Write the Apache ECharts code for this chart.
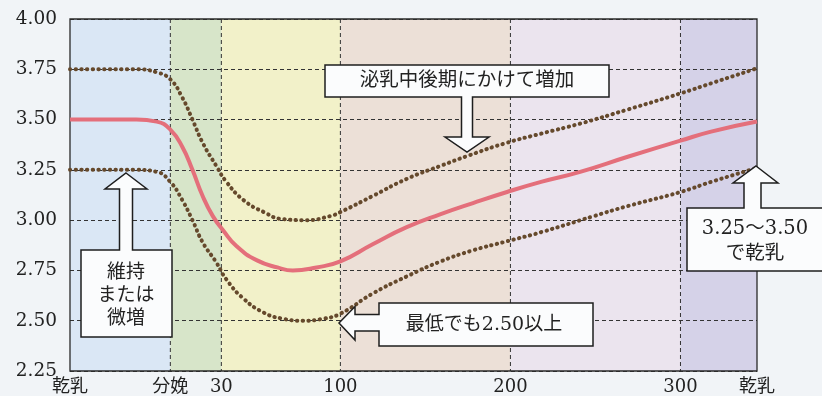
<!DOCTYPE html>
<html><head><meta charset="utf-8">
<script src="https://cdn.jsdelivr.net/npm/echarts@6/dist/echarts.min.js"></script>
<style>html,body{margin:0;padding:0;background:#f1f4f7;}#c{width:822px;height:396px;}</style>
</head><body><div id="c"></div>
<script>
// x = days from calving (dry period is negative), y = BCS
const xTickValues = [-59, 0, 30, 100, 200, 300, 345];
const xTickLabels = ['乾乳', '分娩', '30', '100', '200', '300', '乾乳'];
const vGridDays = [0, 30, 100, 200, 300];
const bandStarts = [-59, 0, 30, 100, 200, 300];
const bandEnds = [0, 30, 100, 200, 300, 345];
const bandColors = ['#dae7f5', '#d7e5c9', '#f2f1c9', '#ece0d7', '#ebe4ee', '#d5d2e8'];

const upperData = [[-59,3.75],[-20,3.75],[-8,3.735],[0,3.70],[7,3.61],[13,3.50],[19,3.385],[27,3.27],[33,3.19],[43,3.10],[55,3.04],[66,3.005],[80,3.00],[94,3.02],[100,3.04],[119,3.12],[139,3.205],[159,3.27],[175,3.32],[198,3.385],[218,3.43],[241,3.48],[269,3.55],[300,3.63],[318,3.68],[345,3.755]];
const middleData = [[-59,3.50],[-20,3.50],[-8,3.49],[0,3.45],[7,3.365],[13,3.25],[19,3.12],[25,3.02],[31,2.95],[39,2.87],[51,2.80],[63,2.765],[72,2.75],[86,2.765],[100,2.795],[119,2.88],[139,2.965],[159,3.03],[178,3.085],[198,3.14],[218,3.19],[241,3.24],[269,3.315],[300,3.395],[318,3.44],[345,3.49]];
const lowerData = [[-59,3.25],[-20,3.25],[-8,3.24],[0,3.19],[7,3.10],[13,3.00],[19,2.89],[27,2.79],[33,2.705],[43,2.61],[55,2.54],[66,2.51],[78,2.50],[90,2.51],[100,2.535],[119,2.635],[139,2.72],[159,2.795],[178,2.85],[198,2.895],[218,2.94],[249,3.02],[269,3.07],[300,3.14],[318,3.19],[345,3.26]];

const yMin = 2.25, yMax = 4.00, yStep = 0.25;
const serif = '"DejaVu Serif","Noto Sans CJK JP",serif';

const chart = echarts.init(document.getElementById('c'), null, {renderer: 'canvas'});

const dotted = {color: '#65492c', width: 4, type: [0.4, 5.3], cap: 'round'};
const boxStyle = {fill: '#fbfcfd', stroke: '#1e1e1e', lineWidth: 1.5};

function txt(x, y, s, size) {
  return {type: 'text', z: 100, x: x, y: y,
    style: {text: s, fill: '#222', font: size + 'px ' + serif, align: 'center', verticalAlign: 'middle'}};
}

const option = {
  backgroundColor: '#f1f4f7',
  animation: false,
  grid: {left: 70, right: 65, top: 19, bottom: 24, show: true, borderColor: '#2a2a2a', borderWidth: 1.3, backgroundColor: 'transparent', z: 1},
  xAxis: {
    type: 'value', min: xTickValues[0], max: xTickValues[xTickValues.length - 1],
    axisLine: {show: false}, axisTick: {show: false}, splitLine: {show: false},
    axisLabel: {
      customValues: xTickValues,
      formatter: function (v) { const i = xTickValues.indexOf(v); return i >= 0 ? xTickLabels[i] : ''; },
      color: '#222', fontSize: 18, fontFamily: serif, margin: 7
    }
  },
  yAxis: {
    type: 'value', min: yMin, max: yMax, interval: yStep,
    axisLine: {show: false}, axisTick: {show: false},
    axisLabel: {formatter: function (v) { return v.toFixed(2); }, color: '#222', fontSize: 18.5, fontFamily: serif, margin: 13},
    splitLine: {show: true, lineStyle: {color: '#333', width: 1, type: [4, 3]}}
  },
  series: [
    {
      type: 'custom', z: -2, silent: true,
      data: bandStarts.map(function (s, i) { return [s, bandEnds[i]]; }),
      encode: {x: [0, 1]},
      renderItem: function (params, api) {
        const p1 = api.coord([api.value(0), yMax]);
        const p2 = api.coord([api.value(1), yMin]);
        return {type: 'rect', shape: {x: p1[0], y: p1[1], width: p2[0] - p1[0], height: p2[1] - p1[1]},
          style: {fill: bandColors[params.dataIndex]}};
      }
    },
    {
      type: 'custom', z: -1, silent: true,
      data: vGridDays.map(function (d) { return [d]; }),
      encode: {x: 0},
      renderItem: function (params, api) {
        const p1 = api.coord([api.value(0), yMax]);
        const p2 = api.coord([api.value(0), yMin]);
        return {type: 'line', shape: {x1: p1[0], y1: p1[1], x2: p2[0], y2: p2[1]},
          style: {stroke: '#333', lineWidth: 1, lineDash: [4, 3]}};
      }
    },
    {type: 'line', data: upperData, showSymbol: false, smooth: 0.5, lineStyle: dotted, z: 3},
    {type: 'line', data: lowerData, showSymbol: false, smooth: 0.5, lineStyle: dotted, z: 3},
    {type: 'line', data: middleData, showSymbol: false, smooth: 0.5, lineStyle: {color: '#e46f7b', width: 4}, z: 4}
  ],
  graphic: [
    {type: 'polygon', z: 90, shape: {points: [[325,65],[609,65],[609,97],[472.5,97],[472.5,137],[489,137],[467,152],[445,137],[461.5,137],[461.5,97],[325,97]]}, style: boxStyle},
    txt(467, 81, '泌乳中後期にかけて増加', 19.5),
    {type: 'polygon', z: 90, shape: {points: [[126,173],[147,189],[132.5,189],[132.5,250],[172,250],[172,337],[81,337],[81,250],[119.5,250],[119.5,189],[105,189]]}, style: boxStyle},
    txt(126, 273, '維持', 19),
    txt(126, 296, 'または', 19),
    txt(126, 319, '微増', 19),
    {type: 'polygon', z: 90, shape: {points: [[339,323],[355,306.5],[355,314.5],[379,314.5],[379,303],[593,303],[593,346],[379,346],[379,331],[355,331],[355,340]]}, style: boxStyle},
    txt(484, 325, '最低でも2.50以上', 19),
    {type: 'polygon', z: 90, shape: {points: [[756,166],[778,183],[761,183],[761,208],[826,208],[826,271],[687,271],[687,208],[744,208],[744,183],[733,183]]}, style: boxStyle},
    txt(755, 229, '3.25～3.50', 19.5),
    txt(755, 254, 'で乾乳', 19.5)
  ]
};
chart.setOption(option);
</script>
</body></html>
